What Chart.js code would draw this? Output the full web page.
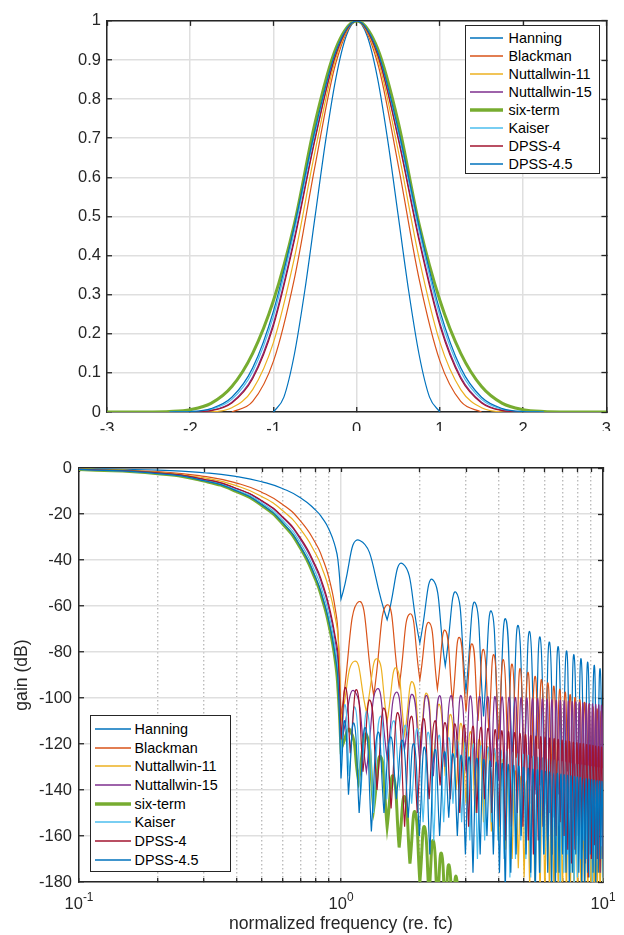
<!DOCTYPE html>
<html>
<head>
<meta charset="utf-8">
<script src="https://cdn.jsdelivr.net/npm/chart.js@4.4.1/dist/chart.umd.min.js"></script>
<style>
  html, body { margin: 0; padding: 0; background: #fff; }
  #wrap { position: relative; width: 624px; height: 935px; overflow: hidden; background: #fff; }
  canvas { position: absolute; left: 0; background: #fff; }
  #cTop { top: 0; }
  #cBot { top: 431px; }
  .legend { position: absolute; box-sizing: border-box; background: #fff; border: 1.5px solid #262626;
            font-family: 'Liberation Sans', Arial, Helvetica, sans-serif; font-size: 14.4px; color: #000; }
  .xlab { position: absolute; transform: translateX(-50%); white-space: nowrap; line-height: 18px;
          font-family: 'Liberation Sans', Arial, Helvetica, sans-serif; font-size: 16.5px; color: #262626; }
  .xlab sup { font-size: 72%; vertical-align: 0; position: relative; top: -0.6em; }
</style>
</head>
<body>
<div id="wrap">
  <canvas id="cTop" width="624" height="445"></canvas>
  <canvas id="cBot" width="624" height="504"></canvas>
  <div id="legTop" class="legend"></div>
  <div id="legBot" class="legend"></div>
</div>
<script>
// ---- series ----
const seriesNames = ['Hanning', 'Blackman', 'Nuttallwin-11', 'Nuttallwin-15', 'six-term', 'Kaiser', 'DPSS-4', 'DPSS-4.5'];
const seriesColors = ['#0072BD', '#D95319', '#EDB120', '#7E2F8E', '#77AC30', '#4DBEEE', '#A2142F', '#0072BD'];
const seriesWidths = [1.2, 1.2, 1.2, 1.2, 3, 1.2, 1.2, 1.2];

// ---- top panel: window shapes ----
const tHanning = [-1, -0.875, -0.75, -0.625, -0.5, -0.375, -0.25, -0.125, 0, 0.125, 0.25, 0.375, 0.5, 0.625, 0.75, 0.875, 1];
const winHanning = [0, 0.0381, 0.1464, 0.3087, 0.5, 0.6913, 0.8536, 0.9619, 1, 0.9619, 0.8536, 0.6913, 0.5, 0.3087, 0.1464, 0.0381, 0];
const tGrid = [-3, -2.75, -2.5, -2.25, -2, -1.75, -1.5, -1.25, -1, -0.75, -0.5, -0.25, 0, 0.25, 0.5, 0.75, 1, 1.25, 1.5, 1.75, 2, 2.25, 2.5, 2.75, 3];
const winBlackman = [null, null, null, null, null, null, 0, 0.027, 0.13, 0.34, 0.63, 0.893, 1, 0.893, 0.63, 0.34, 0.13, 0.027, 0, null, null, null, null, null, null];
const winNutt11 = [null, null, null, null, 0, 0.0006, 0.0109, 0.0573, 0.1779, 0.3928, 0.667, 0.905, 1, 0.905, 0.667, 0.3928, 0.1779, 0.0573, 0.0109, 0.0006, 0, null, null, null, null];
const winNutt15 = [null, null, null, null, 0.0004, 0.0042, 0.0252, 0.0896, 0.227, 0.4444, 0.702, 0.9162, 1, 0.9162, 0.702, 0.4444, 0.227, 0.0896, 0.0252, 0.0042, 0.0004, null, null, null, null];
const winSix = [0, 0, 0.0002, 0.0013, 0.006, 0.022, 0.065, 0.15, 0.285, 0.48, 0.74, 0.93, 1, 0.93, 0.74, 0.48, 0.285, 0.15, 0.065, 0.022, 0.006, 0.0013, 0.0002, 0, 0];
const winKaiser = [null, null, null, 0, 0.0007, 0.0067, 0.0323, 0.1031, 0.2453, 0.4623, 0.7139, 0.9199, 1, 0.9199, 0.7139, 0.4623, 0.2453, 0.1031, 0.0323, 0.0067, 0.0007, 0, null, null, null];
const winDpss4 = [null, null, null, null, 0.0002, 0.0036, 0.0232, 0.0852, 0.2203, 0.4374, 0.6973, 0.9146, 1, 0.9146, 0.6973, 0.4374, 0.2203, 0.0852, 0.0232, 0.0036, 0.0002, null, null, null, null];
const winDpss45 = [null, null, null, 0, 0.0011, 0.0087, 0.0376, 0.1128, 0.2583, 0.4749, 0.7217, 0.9224, 1, 0.9224, 0.7217, 0.4749, 0.2583, 0.1128, 0.0376, 0.0087, 0.0011, 0, null, null, null];

// ---- bottom panel: gain (dB) ----
const freqTicks = [0.1, 0.2, 0.3, 0.4, 0.5, 0.6, 0.7, 0.8, 0.9, 1, 2, 3, 4, 5, 6, 7, 8, 9, 10];
const decadeTicks = [0.1, 1, 10];
const decadeLabels = ['-1', '0', '1'];

// main lobe
const fPass = [0.1, 0.2, 0.3, 0.4, 0.5, 0.6, 0.7, 0.8, 0.85, 0.9, 0.95, 0.975];
const passHanning = [-0.22, -0.91, -2.07, -3.75, -6.02, -9.01, -12.95, -18.3, -21.9, -26.7, -34.1, -40.8];
const passBlackman = [-0.39, -1.59, -3.63, -6.59, -10.62, -15.95, -23.0, -32.7, -39.3, -47.9, -61.0, -72.2];
const passNutt11 = [-0.47, -1.89, -4.30, -7.78, -12.48, -18.62, -26.6, -37.2, -44.1, -52.7, -64.8, -74.3];
const passNutt15 = [-0.54, -2.19, -5.0, -9.05, -14.52, -21.68, -31.0, -43.4, -51.3, -61.3, -75.1, -85.8];
const passSix = [-0.63, -2.5, -5.7, -10.3, -16.4, -24.4, -34.8, -48.6, -57.4, -68.4, -83.5, -97];
const passKaiser = [-0.57, -2.31, -5.28, -9.55, -15.31, -22.84, -32.6, -45.5, -53.8, -64.1, -78.3, -89.0];
const passDpss4 = [-0.53, -2.16, -4.92, -8.90, -14.27, -21.29, -30.4, -42.5, -50.2, -59.9, -73.2, -82.0];
const passDpss45 = [-0.60, -2.42, -5.51, -9.98, -16.01, -23.88, -34.1, -47.6, -56.3, -67.0, -81.8, -93.8];

// side lobes: null positions / peak positions
const fNullHalf = [1, 1.5, 2, 2.5, 3, 3.5, 4, 4.5, 5, 5.5, 6, 6.5, 7, 7.5, 8, 8.5, 9, 9.5, 10];
const fPeakHanning = [1.18, 1.72, 2.24, 2.75, 3.25, 3.75, 4.25, 4.75, 5.25, 5.75, 6.25, 6.75, 7.25, 7.75, 8.25, 8.75, 9.25, 9.75];
const fNullThird = [1, 1.333, 1.667, 2, 2.333, 2.667, 3, 3.333, 3.667, 4, 4.333, 4.667, 5, 5.333, 5.667, 6, 6.333, 6.667, 7, 7.333, 7.667, 8, 8.333, 8.667, 9, 9.333, 9.667, 10];
const fPeakThird = [1.167, 1.5, 1.833, 2.167, 2.5, 2.833, 3.167, 3.5, 3.833, 4.167, 4.5, 4.833, 5.167, 5.5, 5.833, 6.167, 6.5, 6.833, 7.167, 7.5, 7.833, 8.167, 8.5, 8.833, 9.167, 9.5, 9.833];
const fNullQuarter = [1, 1.25, 1.5, 1.75, 2, 2.25, 2.5, 2.75, 3, 3.25, 3.5, 3.75, 4, 4.25, 4.5, 4.75, 5, 5.25, 5.5, 5.75, 6, 6.25, 6.5, 6.75, 7, 7.25, 7.5, 7.75, 8, 8.25, 8.5, 8.75, 9, 9.25, 9.5, 9.75, 10];
const fPeakQuarter = [1.125, 1.375, 1.625, 1.875, 2.125, 2.375, 2.625, 2.875, 3.125, 3.375, 3.625, 3.875, 4.125, 4.375, 4.625, 4.875, 5.125, 5.375, 5.625, 5.875, 6.125, 6.375, 6.625, 6.875, 7.125, 7.375, 7.625, 7.875, 8.125, 8.375, 8.625, 8.875, 9.125, 9.375, 9.625, 9.875];
const fNullSixth = [1, 1.167, 1.333, 1.5, 1.667, 1.833, 2, 2.167, 2.333, 2.5, 2.667, 2.833, 3, 3.167];
const fPeakSixth = [1.083, 1.25, 1.417, 1.583, 1.75, 1.917, 2.083, 2.25, 2.417, 2.583, 2.75, 2.917, 3.083];
const fNullKaiser = [1, 1.074, 1.188, 1.330, 1.494, 1.672, 1.861, 2.057, 2.259, 2.466, 2.675, 2.887, 3.102, 3.317, 3.535, 3.753, 3.972, 4.192, 4.413, 4.634, 4.856, 5.078, 5.300, 5.523, 5.746, 5.969, 6.193, 6.417, 6.641, 6.865, 7.089, 7.314, 7.538, 7.763, 7.988, 8.213, 8.438, 8.663, 8.888, 9.113, 9.338, 9.563, 9.789, 10.014];
const fPeakKaiser = [1.037, 1.131, 1.259, 1.412, 1.583, 1.767, 1.959, 2.158, 2.363, 2.571, 2.781, 2.995, 3.210, 3.426, 3.644, 3.862, 4.082, 4.302, 4.523, 4.745, 4.967, 5.189, 5.411, 5.634, 5.858, 6.081, 6.305, 6.529, 6.753, 6.977, 7.201, 7.426, 7.651, 7.875, 8.100, 8.325, 8.550, 8.775, 9.000, 9.225, 9.451, 9.676, 9.901];
const fNullDpss4 = [1, 1.085, 1.213, 1.372, 1.553, 1.749, 1.955, 2.169, 2.389, 2.612, 2.839, 3.068, 3.299, 3.531, 3.765, 4.000, 4.236, 4.472, 4.709, 4.947, 5.185, 5.423, 5.662, 5.901, 6.141, 6.380, 6.620, 6.860, 7.100, 7.341, 7.581, 7.822, 8.062, 8.303, 8.544, 8.785, 9.026, 9.267, 9.509, 9.750, 9.991];
const fPeakDpss4 = [1.042, 1.149, 1.292, 1.463, 1.651, 1.852, 2.062, 2.279, 2.500, 2.726, 2.953, 3.183, 3.415, 3.648, 3.883, 4.118, 4.354, 4.591, 4.828, 5.066, 5.304, 5.543, 5.782, 6.021, 6.260, 6.500, 6.740, 6.980, 7.220, 7.461, 7.701, 7.942, 8.183, 8.424, 8.665, 8.906, 9.147, 9.388, 9.629, 9.870];
const fNullDpss45 = [1, 1.068, 1.173, 1.306, 1.459, 1.627, 1.805, 1.991, 2.183, 2.379, 2.578, 2.780, 2.984, 3.190, 3.397, 3.606, 3.815, 4.025, 4.236, 4.447, 4.659, 4.871, 5.084, 5.297, 5.510, 5.724, 5.938, 6.152, 6.366, 6.581, 6.795, 7.010, 7.225, 7.440, 7.655, 7.870, 8.086, 8.301, 8.516, 8.732, 8.948, 9.163, 9.379, 9.595, 9.810, 10.026];
const fPeakDpss45 = [1.034, 1.121, 1.240, 1.383, 1.543, 1.716, 1.898, 2.087, 2.281, 2.479, 2.679, 2.882, 3.087, 3.294, 3.501, 3.710, 3.920, 4.130, 4.341, 4.553, 4.765, 4.978, 5.191, 5.404, 5.617, 5.831, 6.045, 6.259, 6.473, 6.688, 6.903, 7.117, 7.332, 7.547, 7.763, 7.978, 8.193, 8.409, 8.624, 8.840, 9.055, 9.271, 9.487, 9.703, 9.918];

// side lobes: levels (dB) at the nulls (as drawn) and at the peaks
const nullHanning = [-57, -66, -76, -86, -97, -108, -118, -126, -134, -140, -146, -152, -158, -150, -160, -168, -176, -166, -172];
const peakHanning = [-31.5, -41.6, -48.6, -54.1, -58.5, -62.3, -65.6, -68.5, -71.1, -73.5, -75.7, -77.7, -79.6, -81.3, -83.0, -84.5, -85.9, -87.3];
const nullBlackman = [-108, -99, -95, -92, -96, -102, -106, -110, -114, -118, -122, -126, -130, -126, -122, -128, -134, -140, -136, -132, -138, -144, -150, -146, -140, -146, -152, -148];
const peakBlackman = [-58.2, -59.5, -63.4, -67.2, -70.6, -73.7, -76.5, -78.9, -81.2, -83.3, -85.3, -87.2, -88.9, -90.6, -92.1, -93.5, -94.9, -96.2, -97.5, -98.6, -99.8, -100.8, -101.9, -102.9, -103.9, -104.8, -105.7];
const nullNutt11 = [-110, -106, -110, -116, -122, -128, -134, -140, -146, -150, -154, -158, -162, -166, -170, -174, -178, -182, -185, -185, -185, -185, -185, -185, -185, -185, -185, -185, -185, -185, -185, -185, -185, -185, -185, -185, -185];
const peakNutt11 = [-84, -83, -87, -93, -98, -102.8, -107.2, -111.1, -114.7, -118, -121.1, -124, -126.7, -129.3, -131.7, -134, -136.1, -138.2, -140.2, -142, -143.8, -145.6, -147.2, -148.8, -150.4, -151.9, -153.3, -154.7, -156.1, -157.4, -158.7, -159.9, -161.1, -162.3, -163.4, -164.5];
const nullNutt15 = [-120, -132, -126, -122, -128, -134, -130, -126, -132, -138, -134, -130, -136, -142, -138, -134, -140, -146, -142, -138, -144, -150, -146, -142, -148, -152, -148, -144, -150, -156, -152, -148, -154, -158, -154, -150, -156];
const peakNutt15 = [-97, -96, -97.5, -98.5, -99, -99, -99, -99, -99.2, -99.3, -99.4, -99.5, -99.6, -99.7, -99.8, -99.9, -100, -100.2, -100.3, -100.5, -100.6, -100.8, -101, -101.1, -101.3, -101.4, -101.6, -101.8, -102, -102.1, -102.3, -102.5, -102.6, -102.8, -103, -103.2];
const nullSix = [-122, -136, -148, -156, -165, -172, -180, -186, -190, -195, -198, -200, -203, -205];
const peakSix = [-114, -116, -125.5, -134, -143, -149.5, -156, -162, -167.5, -172.5, -177.5, -181, -185];
const nullKaiser = [-128, -134, -142, -150, -144, -138, -146, -154, -162, -154, -146, -154, -162, -170, -162, -154, -162, -170, -178, -170, -162, -170, -178, -184, -176, -168, -160, -168, -176, -184, -176, -168, -176, -184, -178, -170, -162, -170, -178, -184, -176, -168, -176, -182];
const peakKaiser = [-103, -104, -106, -108, -110, -112, -113.5, -115, -116.3, -117.4, -118.4, -119.3, -120.1, -120.8, -121.5, -122.1, -122.7, -123.2, -123.7, -124.2, -124.6, -125, -125.4, -125.8, -126.2, -126.5, -126.8, -127.1, -127.4, -127.7, -128, -128.3, -128.5, -128.8, -129, -129.2, -129.5, -129.7, -129.9, -130.1, -130.3, -130.5, -130.7];
const nullDpss4 = [-118, -124, -132, -140, -148, -156, -150, -144, -138, -144, -150, -156, -150, -144, -150, -156, -162, -156, -150, -156, -162, -168, -162, -156, -162, -168, -160, -154, -160, -166, -172, -166, -160, -166, -172, -178, -170, -164, -170, -176, -170];
const peakDpss4 = [-95.5, -96.5, -101, -104.5, -106.5, -108, -109, -110, -110.8, -111.3, -111.8, -112.3, -112.8, -113.3, -113.8, -114.3, -114.7, -115.1, -115.5, -115.9, -116.3, -116.6, -116.9, -117.2, -117.5, -117.8, -118.1, -118.4, -118.7, -119, -119.3, -119.5, -119.8, -120, -120.3, -120.5, -120.7, -121, -121.2, -121.4];
const nullDpss45 = [-135, -142, -150, -158, -150, -144, -152, -160, -168, -160, -152, -160, -168, -176, -168, -160, -168, -176, -184, -176, -168, -160, -168, -176, -184, -176, -168, -176, -184, -184, -176, -168, -176, -184, -176, -168, -176, -184, -184, -176, -168, -176, -184, -176, -170, -178];
const peakDpss45 = [-110, -111, -113, -115, -117, -118.5, -120, -121.5, -122.5, -123.5, -124.3, -125, -125.7, -126.3, -126.9, -127.5, -128, -128.5, -129, -129.4, -129.8, -130.2, -130.6, -131, -131.3, -131.6, -132, -132.3, -132.6, -132.9, -133.2, -133.5, -133.7, -134, -134.2, -134.5, -134.7, -135, -135.2, -135.4, -135.6, -135.8, -136, -136.2, -136.4];

// ---- styling ----
const axisColor = '#262626';
const gridColor = '#dfdfdf';
const minorGridColor = '#bcbcbc';
const fontFamily = "'Liberation Sans', Arial, Helvetica, sans-serif";

Chart.defaults.font.family = fontFamily;
Chart.defaults.font.size = 16.5;
Chart.defaults.color = axisColor;

// builds one gain curve; every null is given twice so the spline makes a notch there
function gainCurve(pass, nullF, nullDb, peakF, peakDb) {
  const pts = fPass.map((f, i) => ({ x: f, y: pass[i] }));
  for (let k = 0; k < nullF.length; k++) {
    pts.push({ x: nullF[k], y: nullDb[k] }, { x: nullF[k], y: nullDb[k] });
    if (k < peakF.length) pts.push({ x: peakF[k], y: peakDb[k] });
  }
  return pts;
}
const xy = (xs, ys) => xs.map((x, i) => ({ x: x, y: ys[i] }));

const shapes = [xy(tHanning, winHanning), xy(tGrid, winBlackman), xy(tGrid, winNutt11), xy(tGrid, winNutt15),
                xy(tGrid, winSix), xy(tGrid, winKaiser), xy(tGrid, winDpss4), xy(tGrid, winDpss45)];
const gains = [
  gainCurve(passHanning, fNullHalf, nullHanning, fPeakHanning, peakHanning),
  gainCurve(passBlackman, fNullThird, nullBlackman, fPeakThird, peakBlackman),
  gainCurve(passNutt11, fNullQuarter, nullNutt11, fPeakQuarter, peakNutt11),
  gainCurve(passNutt15, fNullQuarter, nullNutt15, fPeakQuarter, peakNutt15),
  gainCurve(passSix, fNullSixth, nullSix, fPeakSixth, peakSix),
  gainCurve(passKaiser, fNullKaiser, nullKaiser, fPeakKaiser, peakKaiser),
  gainCurve(passDpss4, fNullDpss4, nullDpss4, fPeakDpss4, peakDpss4),
  gainCurve(passDpss45, fNullDpss45, nullDpss45, fPeakDpss45, peakDpss45)
];

function boxAxis(extra) {
  // axis used only for the top / right side of the box with inward ticks
  return Object.assign({
    ticks: { display: false },
    grid: { drawOnChartArea: false, tickLength: -5, tickColor: axisColor, tickWidth: 1.3 },
    border: { color: axisColor, width: 1.5 }
  }, extra);
}

const isDecade = v => Math.abs(Math.log10(v) - Math.round(Math.log10(v))) < 1e-9;
const setFreqTicks = s => { s.ticks = freqTicks.map(v => ({ value: v, major: isDecade(v) })); };

// top chart
const topChart = new Chart(document.getElementById('cTop'), {
  type: 'line',
  data: {
    datasets: seriesNames.map((name, i) => ({
      label: name,
      data: shapes[i],
      borderColor: seriesColors[i],
      borderWidth: seriesWidths[i],
      pointRadius: 0,
      cubicInterpolationMode: 'monotone',
      order: 7 - i
    }))
  },
  options: {
    responsive: false, animation: false, events: [],
    layout: { padding: { top: 16, right: 13, left: 0, bottom: 0 } },
    plugins: { legend: { display: false }, tooltip: { enabled: false } },
    scales: {
      x: {
        type: 'linear', min: -3, max: 3,
        ticks: { stepSize: 1, padding: 13, maxRotation: 0, callback: v => String(v) },
        grid: { color: gridColor, lineWidth: 1.5, tickLength: -5, tickColor: axisColor, tickWidth: 1.3 },
        border: { color: axisColor, width: 1.5 },
        afterFit: s => { s.height = 33; }
      },
      y: {
        min: 0, max: 1,
        ticks: { stepSize: 0.1, padding: 11, callback: v => String(Math.round(v * 10) / 10) },
        grid: { color: gridColor, lineWidth: 1.5, tickLength: -5, tickColor: axisColor, tickWidth: 1.3 },
        border: { color: axisColor, width: 1.5 },
        afterFit: s => { s.width = 107; }
      },
      x2: boxAxis({ type: 'linear', position: 'top', min: -3, max: 3, ticks: { display: false, stepSize: 1 }, afterFit: s => { s.height = 0; } }),
      y2: boxAxis({ type: 'linear', position: 'right', min: 0, max: 1, ticks: { display: false, stepSize: 0.1 }, afterFit: s => { s.width = 0; } })
    }
  }
});

// bottom chart
const logGrid = {
  color: c => (c.tick && !isDecade(c.tick.value)) ? minorGridColor : gridColor,
  lineWidth: c => (c.tick && !isDecade(c.tick.value)) ? 1.4 : 1.5,
  tickLength: -4, tickColor: axisColor, tickWidth: 1.3
};
const logBorder = { color: axisColor, width: 1.5, dash: c => (c.tick && !isDecade(c.tick.value)) ? [1.5, 2.5] : [] };

const botChart = new Chart(document.getElementById('cBot'), {
  type: 'line',
  data: {
    datasets: seriesNames.map((name, i) => ({
      label: name,
      data: gains[i],
      borderColor: seriesColors[i],
      borderWidth: seriesWidths[i],
      pointRadius: 0,
      tension: 0.55,
      order: 7 - i
    }))
  },
  options: {
    responsive: false, animation: false, events: [],
    layout: { padding: { top: 37, right: 21, left: 0, bottom: 0 } },
    plugins: { legend: { display: false }, tooltip: { enabled: false } },
    scales: {
      x: {
        type: 'logarithmic', min: 0.1, max: 10,
        afterBuildTicks: setFreqTicks,
        // decade labels (10 with exponent) are placed as html text below
        ticks: { autoSkip: false, maxRotation: 0, padding: 15.6, callback: () => '' },
        grid: logGrid,
        border: logBorder,
        title: { display: true, text: 'normalized frequency (re. fc)', font: { size: 17.6 }, padding: { top: 0, bottom: 0 } },
        afterFit: s => { s.height = 53; }
      },
      y: {
        min: -180, max: 0,
        ticks: { stepSize: 20, padding: 12, callback: v => String(v) },
        grid: { color: gridColor, lineWidth: 1.5, tickLength: -5, tickColor: axisColor, tickWidth: 1.3 },
        border: { color: axisColor, width: 1.5 },
        title: { display: true, text: 'gain (dB)', font: { size: 17.6 }, padding: { top: 11.4, bottom: 0 } },
        afterFit: s => { s.width = 79; }
      },
      x2: boxAxis({ type: 'logarithmic', position: 'top', min: 0.1, max: 10, afterBuildTicks: setFreqTicks,
                    ticks: { display: false, autoSkip: false },
                    grid: { drawOnChartArea: false, tickLength: -4, tickColor: axisColor, tickWidth: 1.3 },
                    afterFit: s => { s.height = 0; } }),
      y2: boxAxis({ type: 'linear', position: 'right', min: -180, max: 0, ticks: { display: false, stepSize: 20 }, afterFit: s => { s.width = 0; } })
    }
  }
});

// decade tick labels with superscript exponent, positioned from the chart's x scale
const wrap = document.getElementById('wrap');
const botTop = 431;
decadeTicks.forEach((v, i) => {
  const d = document.createElement('div');
  d.className = 'xlab';
  d.innerHTML = '10<sup>' + decadeLabels[i] + '</sup>';
  d.style.left = botChart.scales.x.getPixelForValue(v) + 'px';
  d.style.top = (botTop + botChart.chartArea.bottom + 11.5) + 'px';
  wrap.appendChild(d);
});

// legends (boxes inside the axes, as in the figure)
function makeLegend(id, box, firstRow, rowStep, lineX0, lineX1, textX) {
  const el = document.getElementById(id);
  el.style.left = box[0] + 'px';
  el.style.top = box[1] + 'px';
  el.style.width = box[2] + 'px';
  el.style.height = box[3] + 'px';
  seriesNames.forEach((name, i) => {
    const cy = firstRow + rowStep * i;
    const len = lineX1 - lineX0;
    const sw = seriesWidths[i] === 3 ? 3.5 : 1.5;
    const svg = '<svg style="position:absolute;left:' + lineX0 + 'px;top:' + (cy - 4) + 'px" width="' + len + '" height="8">' +
      '<line x1="0" y1="4" x2="' + len + '" y2="4" stroke="' + seriesColors[i] + '" stroke-width="' + sw + '"/></svg>';
    el.insertAdjacentHTML('beforeend', svg);
    const tx = document.createElement('div');
    tx.textContent = name;
    tx.style.cssText = 'position:absolute;white-space:nowrap;left:' + textX + 'px;top:' + (cy - 9) + 'px;line-height:18px';
    el.appendChild(tx);
  });
}
makeLegend('legTop', [465, 25, 135, 149], 11.8, 18, 4.2, 37.5, 42.5);
makeLegend('legBot', [90, 715, 141, 157], 12.8, 18.7, 3.5, 39.5, 43.5);
</script>
</body>
</html>
